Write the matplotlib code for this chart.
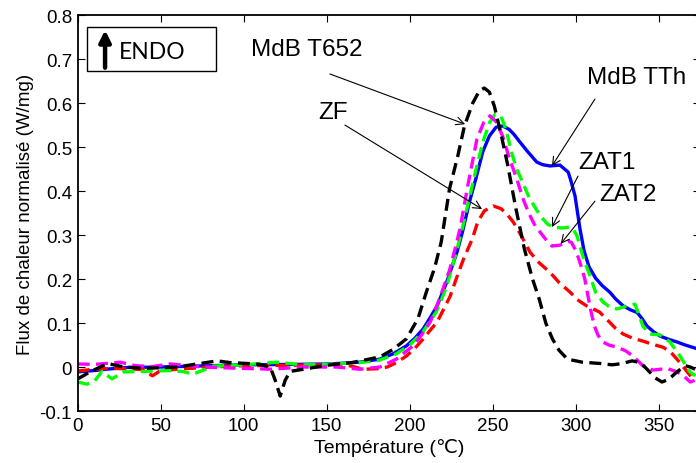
import matplotlib
matplotlib.use('Agg')
import matplotlib.pyplot as plt
from matplotlib.patches import Rectangle

plt.rcParams['font.family'] = ['Liberation Sans', 'DejaVu Sans']

# MdB T652 (noir)
t652_x = [0, 8, 18, 28, 40, 60, 84, 92, 108, 116, 119, 122, 125, 128, 136, 150, 165, 182, 190, 198,
          205, 210, 215, 219, 224, 229, 233, 238, 242, 245, 248, 251, 255, 259, 264, 269, 274, 278,
          282, 286, 290, 295, 304, 315, 322, 328, 334, 339, 343, 348, 352, 356, 361, 366, 369, 372]
t652_y = [-0.027, -0.01, 0.008, 0.0, -0.003, 0.0, 0.014, 0.01, 0.007, 0.0, -0.03, -0.066, -0.03, -0.01,
          -0.005, 0.004, 0.01, 0.023, 0.04, 0.064, 0.11, 0.17, 0.225, 0.284, 0.405, 0.48, 0.548, 0.6,
          0.628, 0.634, 0.625, 0.593, 0.53, 0.46, 0.36, 0.27, 0.2, 0.155, 0.1, 0.064, 0.038, 0.018,
          0.011, 0.008, 0.005, 0.008, 0.014, 0.01, -0.005, -0.025, -0.034, -0.028, -0.011, 0.003,
          0.0, -0.005]

# MdB TTh (bleu)
tth_x = [0, 10, 20, 30, 50, 80, 100, 130, 152, 170, 182, 190, 198, 203, 208, 212, 216.5, 222, 228.5,
         232, 236, 240, 244, 248, 252, 256, 260, 263, 266.5, 271, 276.5, 280, 284.5, 290.5, 295.5,
         297, 299.6, 302.6, 305, 308, 312, 316, 320.6, 324, 328.6, 333, 337, 340, 343, 347, 351,
         356, 361, 366, 372]
tth_y = [-0.011, -0.008, -0.004, -0.001, 0.0, 0.003, 0.005, 0.006, 0.007, 0.011, 0.018, 0.03, 0.048,
         0.065, 0.086, 0.11, 0.139, 0.19, 0.261, 0.31, 0.375, 0.43, 0.489, 0.525, 0.545, 0.548, 0.54,
         0.528, 0.511, 0.49, 0.466, 0.46, 0.457, 0.459, 0.443, 0.425, 0.389, 0.314, 0.265, 0.228,
         0.202, 0.185, 0.17, 0.155, 0.139, 0.13, 0.124, 0.11, 0.093, 0.08, 0.07, 0.063, 0.057, 0.05,
         0.043]

# ZAT1 (vert)
zat1_x = [0, 5.5, 10, 14.6, 20.7, 27.5, 40, 55, 63, 69.5, 75, 81.7, 100, 120, 135, 150, 170, 182, 192,
          200, 208, 216, 222, 228, 232, 236, 240, 244, 248, 251.5, 255, 258, 261.6, 264.5, 268, 272,
          276.6, 280.4, 283, 286.4, 291.7, 296.5, 298.5, 300.8, 304.3, 308.6, 312, 316.4, 320, 325,
          330.9, 335.7, 337.5, 340.5, 344.7, 350.8, 356.8, 362.8, 368.8, 372]
zat1_y = [-0.034, -0.039, -0.033, -0.01, -0.027, -0.011, -0.01, -0.008, -0.01, -0.016, -0.008, 0.002,
          0.005, 0.011, 0.005, 0.006, 0.01, 0.016, 0.03, 0.05, 0.08, 0.125, 0.18, 0.26, 0.32, 0.385,
          0.45, 0.51, 0.555, 0.575, 0.57, 0.54, 0.485, 0.45, 0.42, 0.385, 0.356, 0.336, 0.325, 0.318,
          0.316, 0.318, 0.314, 0.298, 0.252, 0.207, 0.17, 0.148, 0.138, 0.132, 0.139, 0.143, 0.125,
          0.093, 0.075, 0.073, 0.057, 0.025, -0.011, -0.02]

# ZAT2 (magenta)
zat2_x = [0, 10, 20, 25.5, 35, 45, 55.6, 65, 75.5, 90, 100, 116, 136, 156, 170, 182, 192, 202, 207,
          212.3, 216, 220, 224, 227.3, 230.3, 235, 240.5, 244.5, 248.4, 252, 256, 260, 264.6, 268,
          271.5, 275, 278.5, 282, 285.7, 290.5, 295.5, 297.5, 299.6, 301.5, 303.8, 305.5, 307, 309,
          311.3, 313.5, 316.4, 320, 325, 330, 334.5, 340.5, 346.6, 351, 355, 361, 365, 369, 372]
zat2_y = [0.007, 0.006, 0.009, 0.011, 0.003, 0.001, 0.007, 0.004, 0.0, -0.002, -0.003, -0.005, 0.0,
          0.0, -0.005, 0.0, 0.018, 0.048, 0.072, 0.102, 0.135, 0.177, 0.22, 0.268, 0.314, 0.412,
          0.518, 0.555, 0.571, 0.558, 0.525, 0.475, 0.427, 0.385, 0.352, 0.325, 0.307, 0.29, 0.275,
          0.277, 0.286, 0.283, 0.268, 0.25, 0.223, 0.2, 0.17, 0.13, 0.093, 0.072, 0.057, 0.05, 0.045,
          0.037, 0.025, 0.003, -0.007, -0.005, -0.003, -0.011, -0.02, -0.034, -0.03]

# ZF (rouge)
zf_x = [0, 10, 20, 30, 40, 45, 49.5, 60, 80, 100, 130, 150, 158, 165, 172, 180, 186.5, 192, 198, 203,
        208.2, 212, 216.5, 220, 224.4, 228, 232.4, 237.6, 241, 245, 250.4, 255, 258.5, 262.5, 267,
        272.5, 278, 284.6, 290, 296.7, 301, 306.6, 310, 314.4, 317, 320.4, 324, 328.6, 334, 340.5,
        346, 352.6, 357, 361, 366, 370.6, 372]
zf_y = [-0.009, -0.005, -0.003, -0.004, -0.006, -0.02, -0.009, -0.005, 0.0, 0.003, 0.004, 0.005,
        0.007, 0.002, -0.005, -0.004, 0.0, 0.01, 0.025, 0.042, 0.064, 0.082, 0.102, 0.128, 0.161,
        0.2, 0.245, 0.29, 0.33, 0.355, 0.366, 0.36, 0.348, 0.329, 0.3, 0.261, 0.237, 0.215, 0.192,
        0.17, 0.153, 0.139, 0.133, 0.125, 0.115, 0.102, 0.088, 0.075, 0.066, 0.059, 0.052, 0.045,
        0.035, 0.018, -0.005, -0.027, -0.03]

fig = plt.figure(figsize=(6.96, 4.64), dpi=100)
ax = fig.add_axes([0.1116, 0.112, 0.8944, 0.8534])

dash = (0, (3.6, 1.9))
lw = 2.4
ax.plot(tth_x, tth_y, color='#0000ff', lw=lw)
ax.plot(zf_x, zf_y, color='#ff0000', lw=lw, ls=dash)
ax.plot(zat1_x, zat1_y, color='#00ff00', lw=lw, ls=dash)
ax.plot(zat2_x, zat2_y, color='#ff00ff', lw=lw, ls=dash)
ax.plot(t652_x, t652_y, color='k', lw=lw, ls=dash)

ax.set_xlim(0, 375)
ax.set_ylim(-0.1, 0.8)
ax.set_xticks([0, 50, 100, 150, 200, 250, 300, 350])
ax.set_yticks([-0.1, 0, 0.1, 0.2, 0.3, 0.4, 0.5, 0.6, 0.7, 0.8])
ax.set_yticklabels(['-0.1', '0', '0.1', '0.2', '0.3', '0.4', '0.5', '0.6', '0.7', '0.8'])
ax.tick_params(direction='in', top=True, right=True, length=5, labelsize=13.5, pad=4)
for s in ax.spines.values():
    s.set_linewidth(1.3)

ax.set_xlabel('Température (℃)', fontsize=14, labelpad=3)
ax.set_ylabel('Flux de chaleur normalisé (W/mg)', fontsize=13.5, labelpad=4)

arr = dict(arrowstyle='->', color='k', lw=0.8, shrinkA=0, shrinkB=0, mutation_scale=14)
fs = 17.5
ax.text(138, 0.723, 'MdB T652', fontsize=fs, ha='center', va='center')
ax.annotate('', xy=(233.4, 0.552), xytext=(152, 0.666), arrowprops=arr)
ax.text(154, 0.58, 'ZF', fontsize=fs, ha='center', va='center')
ax.annotate('', xy=(243.6, 0.359), xytext=(161, 0.55), arrowprops=arr)
ax.text(337, 0.659, 'MdB TTh', fontsize=fs, ha='center', va='center')
ax.annotate('', xy=(285.7, 0.457), xytext=(311.6, 0.609), arrowprops=arr)
ax.text(319, 0.466, 'ZAT1', fontsize=fs, ha='center', va='center')
ax.annotate('', xy=(285.7, 0.318), xytext=(301.4, 0.434), arrowprops=arr)
ax.text(331.5, 0.393, 'ZAT2', fontsize=fs, ha='center', va='center')
ax.annotate('', xy=(291, 0.28), xytext=(311.6, 0.377), arrowprops=arr)

# encadré ENDO
ax.add_patch(Rectangle((0.015, 0.859), 0.207, 0.111, transform=ax.transAxes,
                       fill=False, edgecolor='k', lw=1.0))
ax.annotate('', xy=(0.044, 0.962), xytext=(0.044, 0.867), xycoords='axes fraction',
            arrowprops=dict(arrowstyle='-|>', color='k', lw=3.2, mutation_scale=17,
                            shrinkA=0, shrinkB=0))
ax.text(0.066, 0.909, 'ENDO', transform=ax.transAxes, fontsize=16.5, family='Lato',
        ha='left', va='center')

fig.savefig('out.png', dpi=100)
